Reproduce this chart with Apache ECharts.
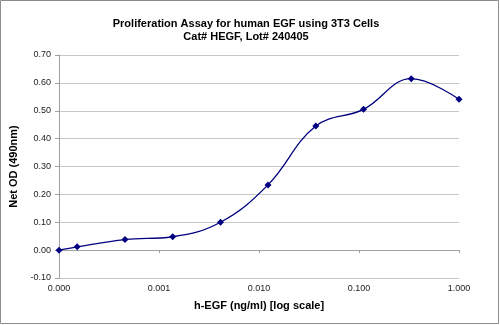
<!DOCTYPE html>
<html><head><meta charset="utf-8">
<script src="https://cdn.jsdelivr.net/npm/echarts@6/dist/echarts.min.js"></script>
<style>html,body{margin:0;padding:0;background:#fff}#c{width:500px;height:325px}</style>
</head><body><div id="c"></div>
<script>
// h-EGF concentration (ng/ml); the zero-dose point is plotted at the axis minimum
const concentrations = [0.0001, 0.000152, 0.000457, 0.00137, 0.00412, 0.0123, 0.037, 0.111, 0.333, 1.0];
const netOD = [0.000, 0.012, 0.038, 0.048, 0.100, 0.234, 0.445, 0.505, 0.615, 0.541];
const yTicks = [-0.10, 0.00, 0.10, 0.20, 0.30, 0.40, 0.50, 0.60, 0.70];
const xTicks = [0.0001, 0.001, 0.01, 0.1, 1];

const chart = echarts.init(document.getElementById('c'), null, {renderer: 'canvas'});
const FONT = 'Liberation Sans, Arial, sans-serif';
chart.setOption({
  animation: false,
  backgroundColor: '#fff',
  title: {
    text: 'Proliferation Assay for human EGF using 3T3 Cells\nCat# HEGF, Lot# 240405',
    left: 241, top: 12, textAlign: 'center',
    textStyle: {fontFamily: FONT, fontSize: 11, fontWeight: 'bold', color: '#000', lineHeight: 13}
  },
  graphic: [{
    type: 'rect', shape: {x: 0.5, y: 0.5, width: 498, height: 323},
    style: {fill: 'none', stroke: '#8c8c8c', lineWidth: 1}, silent: true, z: 100
  }],
  grid: {left: 58, right: 41, top: 55, bottom: 47, containLabel: false},
  xAxis: {
    type: 'log', logBase: 10, min: xTicks[0], max: xTicks[xTicks.length - 1],
    name: 'h-EGF (ng/ml) [log scale]', nameLocation: 'middle', nameGap: 22,
    nameTextStyle: {fontFamily: FONT, fontSize: 11, fontWeight: 'bold', color: '#000'},
    axisLine: {show: true, lineStyle: {color: '#a0a0a0', width: 1}},
    axisTick: {show: true, inside: false, length: 3, lineStyle: {color: '#a0a0a0'}},
    axisLabel: {fontFamily: FONT, fontSize: 9, color: '#222', margin: 6,
      formatter: v => Number(v).toFixed(3)},
    splitLine: {show: false}
  },
  yAxis: {
    type: 'value', min: yTicks[0], max: yTicks[yTicks.length - 1], interval: 0.1,
    name: 'Net OD (490nm)', nameLocation: 'middle', nameGap: 40, nameRotate: 90,
    nameTextStyle: {fontFamily: FONT, fontSize: 11, fontWeight: 'bold', color: '#000'},
    axisLine: {show: true, lineStyle: {color: '#a0a0a0', width: 1}},
    axisTick: {show: true, inside: false, length: 4, lineStyle: {color: '#a0a0a0'}},
    axisLabel: {fontFamily: FONT, fontSize: 9, color: '#222', margin: 8,
      formatter: v => Number(v).toFixed(2)},
    splitLine: {show: true, lineStyle: {color: '#c8c8c8', width: 1}}
  },
  series: [{
    type: 'line',
    data: concentrations.map((c, i) => [c, netOD[i]]),
    smooth: 0.4,
    symbol: 'diamond', symbolSize: 7,
    lineStyle: {color: '#000080', width: 1.3},
    itemStyle: {color: '#000080'},
    clip: false
  }]
});
</script></body></html>
